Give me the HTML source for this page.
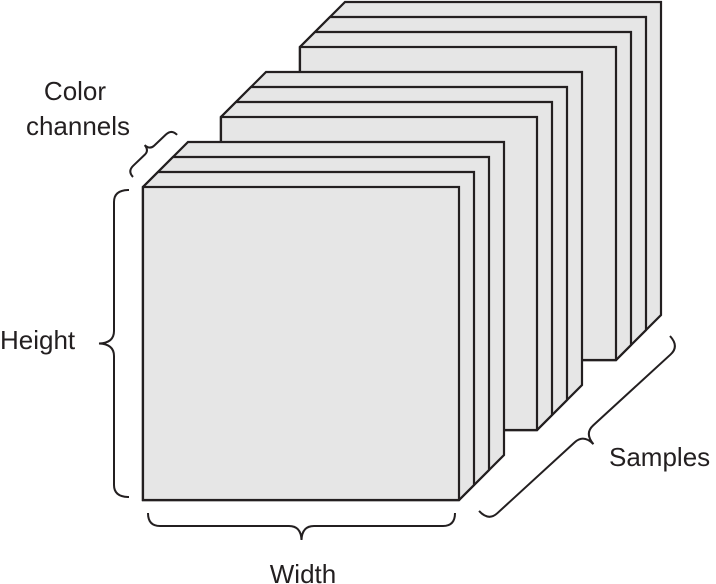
<!DOCTYPE html>
<html><head><style>
html,body{margin:0;padding:0;background:#fff;}
svg{display:block;}
text{font-family:"Liberation Sans",sans-serif;font-size:26px;fill:#231f20;}
</style></head><body>
<svg width="716" height="584" viewBox="0 0 716 584" xmlns="http://www.w3.org/2000/svg">
<defs>
<g id="stack" stroke="#231f20" stroke-width="2.2" fill="#e6e6e6" stroke-linejoin="miter">
  <polygon points="0,0 45,-45 361,-45 361,268 316,313 0,313"/>
  <polygon points="0,0 30,-30 346,-30 346,283 316,313 0,313"/>
  <polygon points="0,0 15,-15 331,-15 331,298 316,313 0,313"/>
  <rect x="0" y="0" width="316" height="313"/>
</g>
</defs>
<use href="#stack" x="300" y="47"/>
<use href="#stack" x="221" y="117"/>
<use href="#stack" x="143" y="187"/>
<g fill="none" stroke="#231f20" stroke-width="2">
  <path transform="translate(129,497) rotate(-90)" d="M0,0 Q0,-15 12,-15 L141,-15 Q153,-15 153.5,-30 Q154,-15 166,-15 L295,-15 Q307,-15 307,0"/>
  <path transform="translate(455,513) rotate(180)" d="M0,0 Q0,-13 12,-13 L141,-13 Q153,-13 153.5,-27 Q154,-13 166,-13 L295,-13 Q307,-13 307,0"/>
  <path transform="translate(670,336) rotate(137.5)" d="M0,0 Q0,-14 12,-14 L117,-14 Q129,-14 129.5,-28 Q130,-14 142,-14 L247,-14 Q259,-14 259,0"/>
  <path transform="translate(133,177) rotate(-43.7)" d="M0,0 Q0,-8 8,-8 L24,-8 Q30,-8 30.5,-15 Q31,-8 37,-8 L53,-8 Q61,-8 61,0"/>
</g>
<text x="75" y="100" text-anchor="middle">Color</text>
<text x="78" y="135" text-anchor="middle">channels</text>
<text x="0" y="349">Height</text>
<text x="303" y="583" text-anchor="middle">Width</text>
<text x="609" y="466">Samples</text>
</svg>
</body></html>
